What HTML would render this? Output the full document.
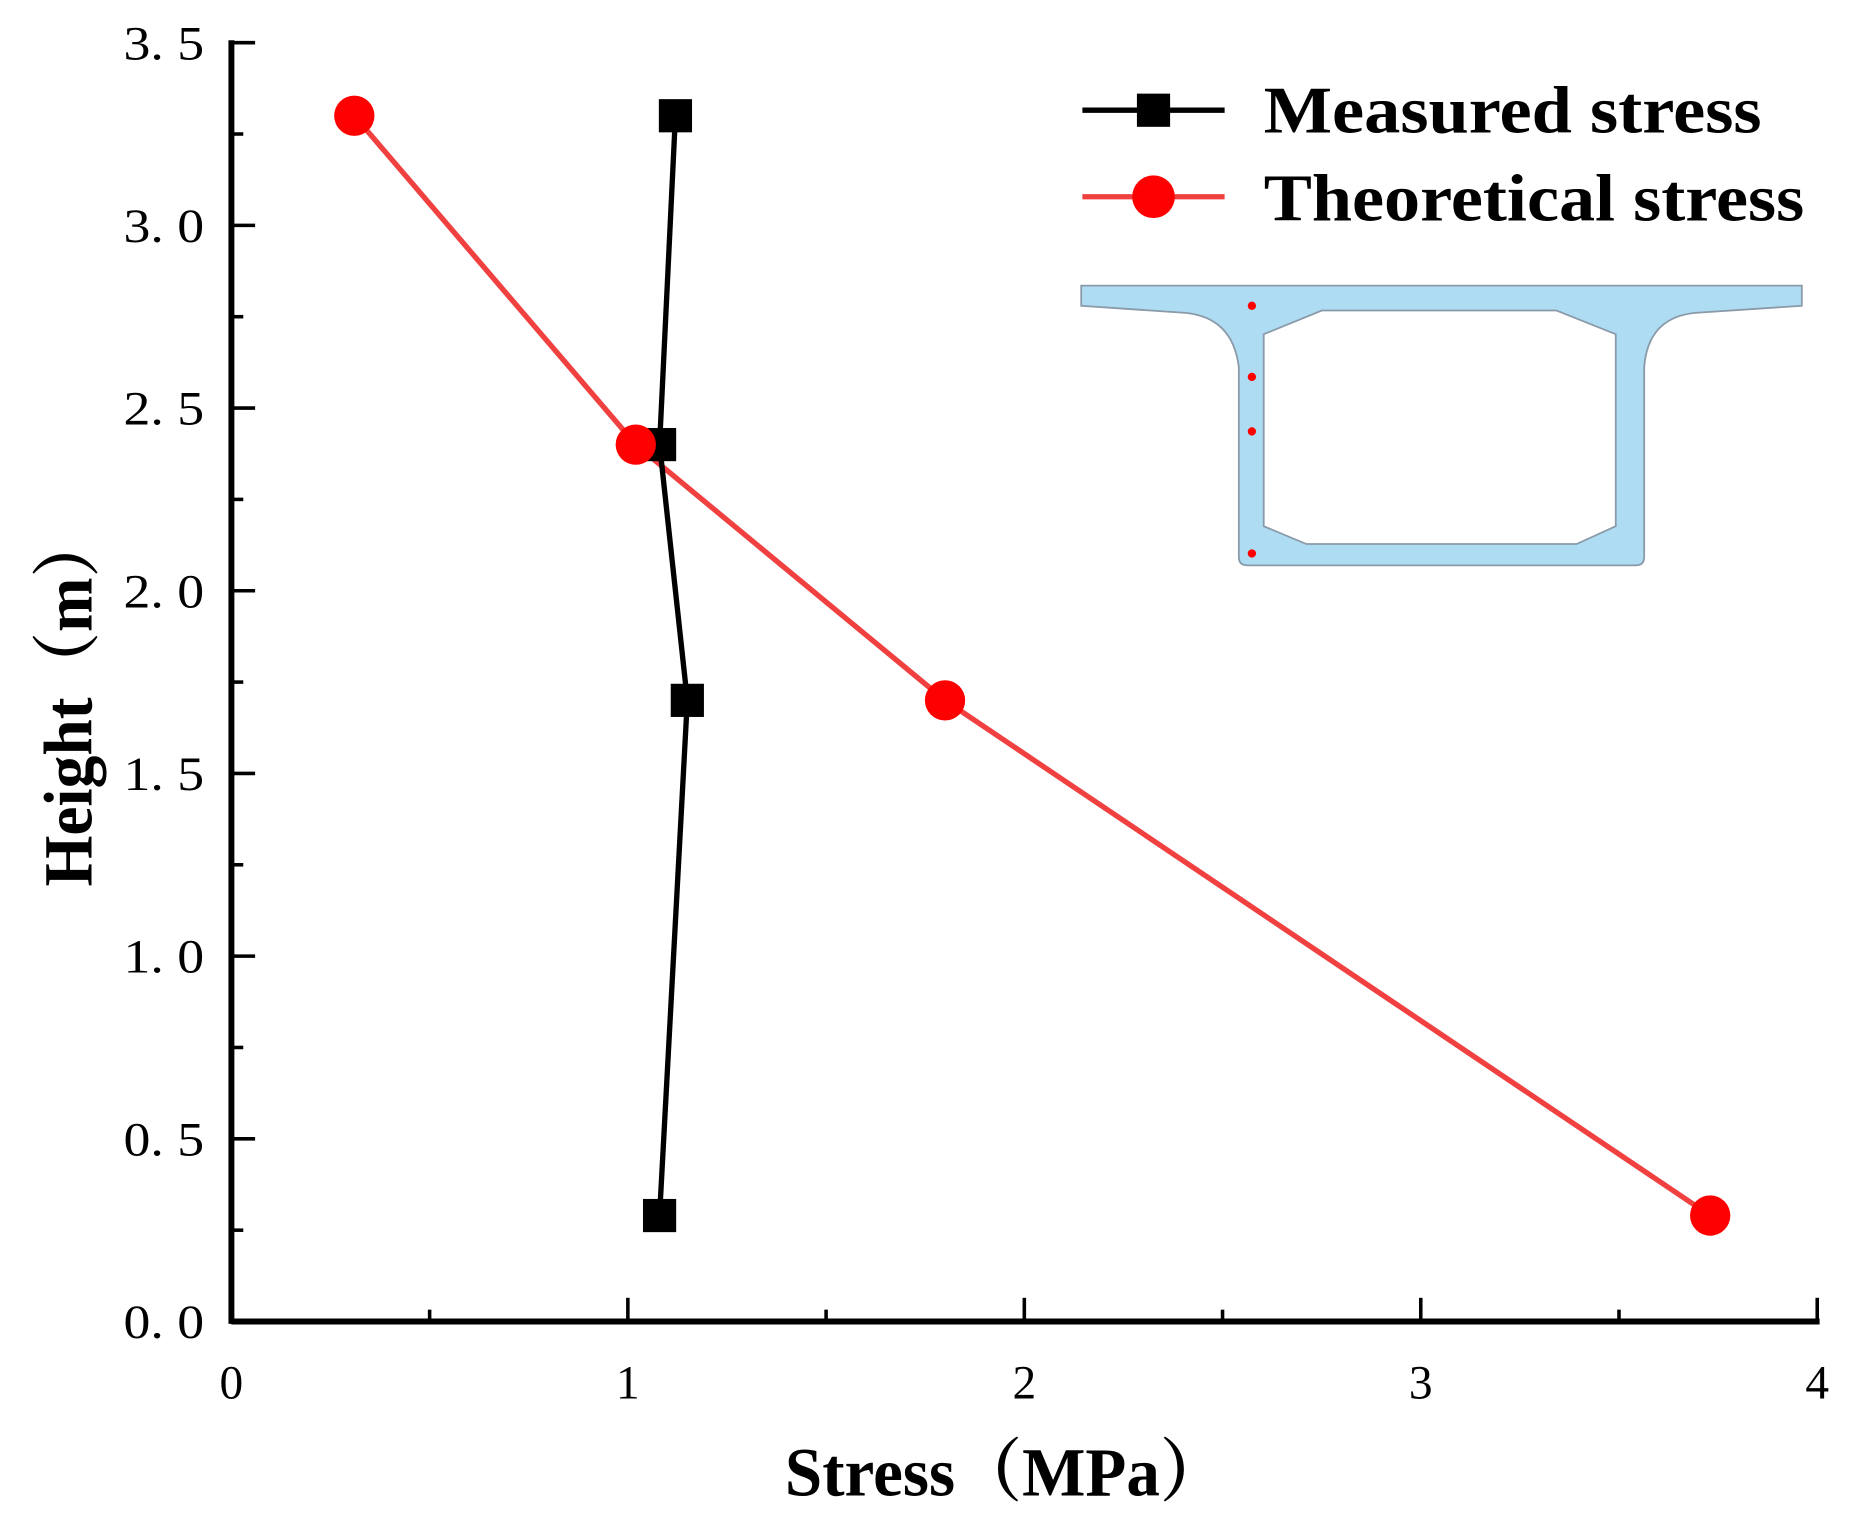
<!DOCTYPE html>
<html><head><meta charset="utf-8"><style>html,body{margin:0;padding:0;background:#fff}svg{display:block}</style></head>
<body>
<svg width="1859" height="1523" viewBox="0 0 1568 1285" xmlns="http://www.w3.org/2000/svg">
<g id="inset">
<path d="M912,241 L1520,241 L1520,258 L1430,264 Q1390,268 1387,310 L1387,470 Q1387,477 1380,477 L1052,477 Q1045,477 1045,470 L1045,310 Q1040,268 1000,264 L912,258 Z" fill="#aedcf3" stroke="#8a9aa8" stroke-width="1.5"/>
<path d="M1115,262 L1313,262 L1363,282 L1363,444 L1330,459 L1102,459 L1066,444 L1066,282 Z" fill="#fff" stroke="#8a9aa8" stroke-width="1.5"/>
<g fill="#f00"><circle cx="1056" cy="258" r="3.5"/><circle cx="1056" cy="318" r="3.5"/><circle cx="1056" cy="364" r="3.5"/><circle cx="1056" cy="467" r="3.5"/></g>
</g>
<g id="axes"></g>
<g id="series"></g>
<g>
<line x1="913" y1="93" x2="1033" y2="93" stroke="#000" stroke-width="4.5"/>
<rect x="959" y="79" width="28" height="28" fill="#000"/>
<text x="1066" y="112" font-family="Liberation Serif, serif" font-weight="bold" font-size="56" textLength="420" lengthAdjust="spacingAndGlyphs">Measured stress</text>
<line x1="913" y1="166" x2="1033" y2="166" stroke="#f04040" stroke-width="4.5"/>
<circle cx="973" cy="166" r="18" fill="#f00"/>
<text x="1066" y="186" font-family="Liberation Serif, serif" font-weight="bold" font-size="56" textLength="456" lengthAdjust="spacingAndGlyphs">Theoretical stress</text>
</g>
<text x="662" y="1262" font-family="Liberation Serif, 'Noto Serif CJK SC', serif" font-weight="bold" font-size="58" textLength="373" lengthAdjust="spacingAndGlyphs">Stress（MPa）</text>
<text transform="translate(77,748) rotate(-90)" font-family="Liberation Serif, 'Noto Serif CJK SC', serif" font-weight="bold" font-size="58" textLength="316" lengthAdjust="spacingAndGlyphs">Height（m）</text>
</svg>
<script>
const xTicks=[0,1,2,3,4];
const yTicks=["0.0","0.5","1.0","1.5","2.0","2.5","3.0","3.5"];
const measuredX=[1.12,1.08,1.15,1.08];
const measuredY=[3.3,2.4,1.7,0.29];
const theoryX=[0.31,1.02,1.8,3.73];
const theoryY=[3.3,2.4,1.7,0.29];
const NS="http://www.w3.org/2000/svg";
const X=v=>195+v*(1533-195)/4, Y=v=>1115-v*(1115-36)/3.5;
function mk(t,a,p){const e=document.createElementNS(NS,t);for(const k in a)e.setAttribute(k,a[k]);p.appendChild(e);return e;}
const ax=document.getElementById('axes');
let e=mk('line',{x1:195,y1:1115,x2:1535,y2:1115,stroke:'#000','stroke-width':5},ax);


e=mk('line',{x1:195,y1:34,x2:195,y2:1117,stroke:'#000','stroke-width':5},ax);


for(let v=0;v<=4.001;v+=0.5){const maj=Math.abs(v-Math.round(v))<1e-6;mk('line',{x1:X(v),y1:1115,x2:X(v),y2:maj?1095:1105,stroke:'#000','stroke-width':3},ax);}
for(let v=0;v<=3.501;v+=0.25){const maj=Math.abs(v*2-Math.round(v*2))<1e-6;mk('line',{x1:195,y1:Y(v),x2:maj?215:205,y2:Y(v),stroke:'#000','stroke-width':3},ax);}
xTicks.forEach(v=>{const t=mk('text',{x:X(v),y:1180,'text-anchor':'middle','font-family':'Liberation Serif, serif','font-size':40},ax);t.textContent=v;

});
yTicks.forEach(s=>{const t=mk('text',{x:172,y:Y(parseFloat(s))+14,'text-anchor':'end','font-family':'Liberation Serif, serif','font-size':40,textLength:68,lengthAdjust:'spacingAndGlyphs'},ax);t.textContent=s.replace('.','. ');

});
const sg=document.getElementById('series');
let p=mk('polyline',{points:theoryX.map((x,i)=>X(x)+','+Y(theoryY[i])).join(' '),fill:'none',stroke:'#f04040','stroke-width':4.5},sg);


p=mk('polyline',{points:measuredX.map((x,i)=>X(x)+','+Y(measuredY[i])).join(' '),fill:'none',stroke:'#000','stroke-width':4.5},sg);


measuredX.forEach((x,i)=>{const r=mk('rect',{x:X(x)-14,y:Y(measuredY[i])-14,width:28,height:28,fill:'#000'},sg);

});
theoryX.forEach((x,i)=>{const c=mk('circle',{cx:X(x),cy:Y(theoryY[i]),r:17,fill:'#f00'},sg);

});
</script>
</body></html>
